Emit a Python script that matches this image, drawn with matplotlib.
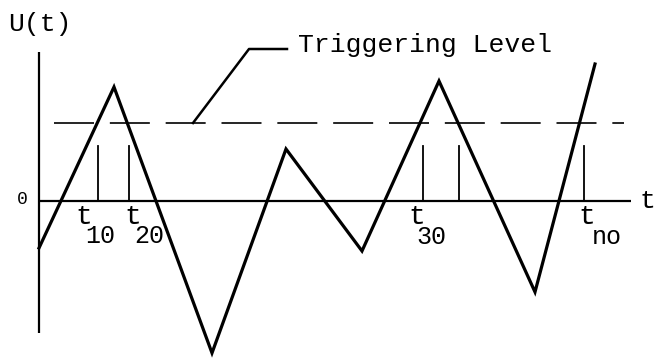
import matplotlib
matplotlib.use("Agg")
import matplotlib.pyplot as plt

# triangular signal U(t): corner points
t_pts = [0.0, 7.5, 17.3, 24.7, 32.3, 40.0, 49.6, 55.6]
u_pts = [-4.7, 11.4, -15.2, 5.2, -5.0, 12.0, -9.1, 13.7]

# level crossings marked by short pulses
pulse_t = [5.9, 9.0, 38.4, 42.0, 54.5]
pulse_h = 5.5

trigger = 7.8
t_axis_end = 59.2
u_axis = (-13.2, 14.9)

# labels under the crossings
cross_labels = ["10", "20", "30", "no"]
cross_t = [3.6, 8.5, 36.9, 53.9]
sub_dx = [1.0, 1.0, 0.8, 1.4]
sub_du = [-3.5, -3.5, -3.6, -3.6]

plt.rcParams['font.family'] = ['Liberation Mono', 'DejaVu Sans']

fig = plt.figure(figsize=(6.56, 3.61), dpi=100)
ax = fig.add_axes([0, 0, 1, 1])
ax.set_xlim(-3.9, 61.7)
ax.set_ylim(-16.0, 20.1)
ax.axis('off')

# axes
ax.plot([0, 0], u_axis, color='black', lw=1.6, solid_capstyle='butt')
ax.plot([0, t_axis_end], [0, 0], color='black', lw=1.6, solid_capstyle='butt')

# triggering level
ax.plot([1.5, 58.5], [trigger, trigger], color='black', lw=1.2,
        dashes=(24, 9.5))

# signal
ax.plot(t_pts, u_pts, color='black', lw=2.3, solid_joinstyle='miter')

# pulses
for tp in pulse_t:
    ax.plot([tp, tp], [0, pulse_h], color='black', lw=1.3)

# pointer to the dashed line
ax.plot([15.4, 21.0, 24.8], [trigger, 15.2, 15.2], color='black', lw=1.8)
ax.text(25.9, 15.6, "Triggering Level", fontsize=19, va='center', ha='left')

# axis labels
ax.text(-3.1, 17.7, "U(t)", fontsize=19, va='center', ha='left')
ax.text(60.8, 0.0, "t", fontsize=19, va='center', ha='center')
ax.text(-2.2, 0.1, "0", fontsize=13, va='center', ha='left')

# crossing time labels t_10 ... t_no
for lab, tx, dx, du in zip(cross_labels, cross_t, sub_dx, sub_du):
    ax.text(tx, -1.6, "t", fontsize=20, va='center', ha='left')
    ax.text(tx + dx, du, lab, fontsize=18, va='center', ha='left')

fig.savefig("out.png", dpi=100)
